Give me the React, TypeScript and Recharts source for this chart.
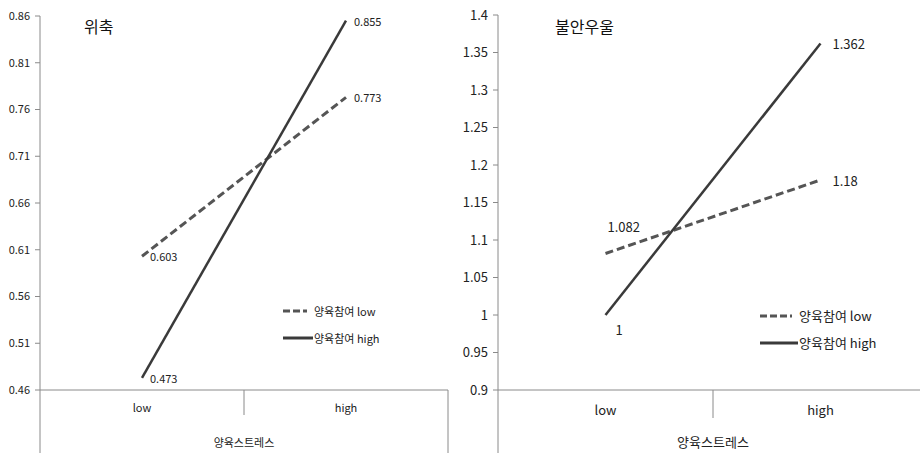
import { LineChart, Line, XAxis, YAxis, Legend, LabelList } from "recharts"

// 양육스트레스 categories
const stressLevels = ["low", "high"]

// 위축 panel
const withdrawLow = [0.603, 0.773]
const withdrawHigh = [0.473, 0.855]
const withdrawTicks = [0.46, 0.51, 0.56, 0.61, 0.66, 0.71, 0.76, 0.81, 0.86]

// 불안우울 panel
const anxietyLow = [1.082, 1.18]
const anxietyHigh = [1, 1.362]
const anxietyTicks = [0.9, 0.95, 1, 1.05, 1.1, 1.15, 1.2, 1.25, 1.3, 1.35, 1.4]

const seriesNames = { low: "양육참여 low", high: "양육참여 high" }
const legendOrder = ["low", "high"]

const FONT = '"Noto Sans CJK KR", "Noto Sans", sans-serif'
const AXIS = "#8a8a8a"
const SOLID = "#3a3a3a"
const DASHED = "#555555"
const TEXT = "#222"
const HEIGHT = 453
const AXIS_Y = 390

type LabelFn = (p: any, series: "low" | "high", fontSize: number) => any

interface PanelProps {
  left: number
  width: number
  top: number
  right: number
  yWidth: number
  lowValues: number[]
  highValues: number[]
  ticks: number[]
  title: string
  titleLeft: number
  fontSize: number
  legendLeft: number
  legendTop: number
  legendLine: number
  labelPos: LabelFn
  xLabelY: number
  dividerLen: number
}

function Panel(p: PanelProps) {
  const data = stressLevels.map((s, i) => ({ cat: s, low: p.lowValues[i], high: p.highValues[i] }))
  const plotWidth = p.width - p.yWidth - p.right
  const half = plotWidth / stressLevels.length / 2

  const renderTick = (props: any) => {
    const { x, payload, index } = props
    return (
      <g>
        {index === 0 && <line x1={x - half} y1={AXIS_Y} x2={x - half} y2={HEIGHT} stroke={AXIS} />}
        {index > 0 && <line x1={x - half} y1={AXIS_Y} x2={x - half} y2={AXIS_Y + p.dividerLen} stroke={AXIS} />}
        {index === stressLevels.length - 1 && (
          <line x1={x + half} y1={AXIS_Y} x2={x + half} y2={HEIGHT} stroke={AXIS} />
        )}
        <text x={x} y={p.xLabelY} dy="0.35em" textAnchor="middle" fontSize={p.fontSize} fill={TEXT} fontFamily={FONT}>
          {payload.value}
        </text>
      </g>
    )
  }

  const legendContent = ({ payload }: any) => {
    const items = [...(payload || [])].sort(
      (a: any, b: any) => legendOrder.indexOf(a.dataKey) - legendOrder.indexOf(b.dataKey)
    )
    const w = p.legendLine
    return (
      <div style={{ fontFamily: FONT, fontSize: p.fontSize, color: TEXT }}>
        {items.map((entry: any) => {
          const dashed = entry.dataKey === "low"
          return (
            <div key={entry.value} style={{ display: "flex", alignItems: "center", height: 27 }}>
              <svg width={w} height={10} style={{ flexShrink: 0 }}>
                {dashed ? (
                  <line x1="0" y1="5" x2={w - 6} y2="5" stroke={DASHED} strokeWidth={3} strokeDasharray="7 3" />
                ) : (
                  <line x1="0" y1="5" x2={w} y2="5" stroke={SOLID} strokeWidth={3} />
                )}
              </svg>
              <span style={{ marginLeft: 1, whiteSpace: "nowrap" }}>{entry.value}</span>
            </div>
          )
        })}
      </div>
    )
  }

  return (
    <div style={{ position: "absolute", left: p.left, top: 0, width: p.width, height: HEIGHT }}>
      <div
        style={{
          position: "absolute",
          left: p.titleLeft,
          top: 14,
          fontFamily: FONT,
          fontSize: 16,
          color: "#111",
          lineHeight: "24px",
          zIndex: 2,
        }}
      >
        {p.title}
      </div>
      <LineChart width={p.width} height={HEIGHT} data={data} margin={{ top: p.top, right: p.right, left: 0, bottom: 0 }}>
        <XAxis
          dataKey="cat"
          scale="band"
          height={HEIGHT - AXIS_Y}
          axisLine={{ stroke: AXIS }}
          tickLine={false}
          tick={renderTick}
          interval={0}
          label={{
            value: "양육스트레스",
            position: "insideBottom",
            offset: 6,
            fontSize: p.fontSize,
            fill: TEXT,
            fontFamily: FONT,
          }}
        />
        <YAxis
          width={p.yWidth}
          domain={[p.ticks[0], p.ticks[p.ticks.length - 1]]}
          ticks={p.ticks}
          interval={0}
          axisLine={{ stroke: AXIS }}
          tickLine={{ stroke: AXIS }}
          tickSize={5}
          tickMargin={5}
          tick={{ fontSize: p.fontSize, fill: TEXT, fontFamily: FONT }}
        />
        <Legend
          layout="vertical"
          align="center"
          verticalAlign="middle"
          content={legendContent}
          wrapperStyle={{ left: p.legendLeft, top: p.legendTop, width: 150 }}
        />
        <Line
          dataKey="low"
          name={seriesNames.low}
          stroke={DASHED}
          strokeWidth={3}
          strokeDasharray="8 4"
          dot={false}
          activeDot={false}
          isAnimationActive={false}
        >
          <LabelList dataKey="low" content={(lp: any) => p.labelPos(lp, "low", p.fontSize)} />
        </Line>
        <Line
          dataKey="high"
          name={seriesNames.high}
          stroke={SOLID}
          strokeWidth={2.5}
          dot={false}
          activeDot={false}
          isAnimationActive={false}
        >
          <LabelList dataKey="high" content={(lp: any) => p.labelPos(lp, "high", p.fontSize)} />
        </Line>
      </LineChart>
    </div>
  )
}

const labelText = (x: number, y: number, value: any, fontSize: number, anchor = "start") => (
  <text x={x} y={y} dy="0.35em" textAnchor={anchor} fontSize={fontSize} fill={TEXT} fontFamily={FONT}>
    {value}
  </text>
)

const withdrawLabel: LabelFn = (lp, _series, fs) => labelText(lp.x + 8, lp.y + 1, lp.value, fs)

const anxietyLabel: LabelFn = (lp, series, fs) => {
  if (lp.index === 0 && series === "low") return labelText(lp.x + 2, lp.y - 26, lp.value, fs)
  if (lp.index === 0 && series === "high") return labelText(lp.x + 10, lp.y + 15, lp.value, fs)
  return labelText(lp.x + 12, lp.y + 1, lp.value, fs)
}

export default function App() {
  return (
    <div
      style={{
        position: "absolute",
        left: 0,
        top: 0,
        width: 920,
        height: HEIGHT,
        overflow: "hidden",
        background: "#fff",
      }}
    >
      <Panel
        left={0}
        width={460}
        top={16}
        right={12}
        yWidth={40}
        lowValues={withdrawLow}
        highValues={withdrawHigh}
        ticks={withdrawTicks}
        title="위축"
        titleLeft={84}
        fontSize={11}
        legendLeft={283}
        legendTop={297}
        legendLine={30}
        labelPos={withdrawLabel}
        xLabelY={408}
        dividerLen={25}
      />
      <Panel
        left={460}
        width={468}
        top={15}
        right={0}
        yWidth={38}
        lowValues={anxietyLow}
        highValues={anxietyHigh}
        ticks={anxietyTicks}
        title="불안우울"
        titleLeft={95}
        fontSize={13}
        legendLeft={300}
        legendTop={302}
        legendLine={38}
        labelPos={anxietyLabel}
        xLabelY={410}
        dividerLen={28}
      />
    </div>
  )
}
